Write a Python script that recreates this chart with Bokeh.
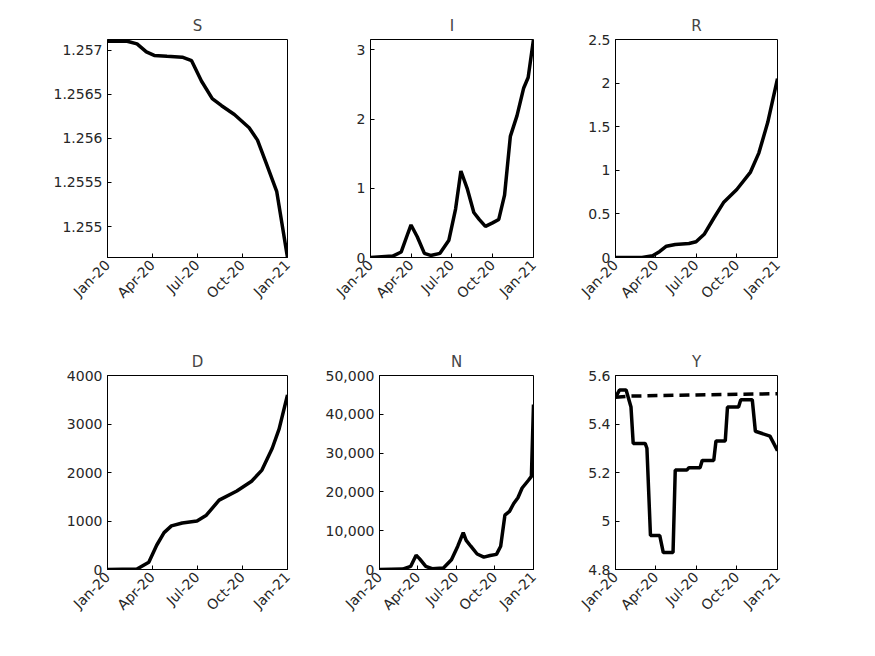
from datetime import datetime
from math import pi
from bokeh.plotting import figure
from bokeh.layouts import column, row
from bokeh.models import FixedTicker, Label, NumeralTickFormatter, Range1d
from bokeh.embed import file_html
from bokeh.resources import INLINE

def d(s):
    return datetime.strptime(s, "%Y-%m-%d").timestamp() * 1000

# ---- data ----
S_dates = ["2020-01-01", "2020-02-10", "2020-03-01", "2020-03-20", "2020-04-05", "2020-05-01", "2020-06-01",
           "2020-06-20", "2020-07-10", "2020-08-01", "2020-08-20", "2020-09-15", "2020-10-15", "2020-11-01",
           "2020-11-20", "2020-12-10", "2021-01-01"]
S_e8 = [1.25710, 1.25710, 1.25707, 1.25698, 1.25694, 1.25693, 1.25692, 1.25688, 1.25665, 1.25645, 1.25637,
        1.25627, 1.25612, 1.25598, 1.25570, 1.25540, 1.25465]

I_dates = ["2020-01-01", "2020-02-20", "2020-03-10", "2020-03-25", "2020-04-01", "2020-04-15", "2020-05-01",
           "2020-05-15", "2020-06-05", "2020-06-25", "2020-07-10", "2020-07-22", "2020-08-05", "2020-08-20",
           "2020-09-01", "2020-09-15", "2020-10-01", "2020-10-15", "2020-10-28", "2020-11-10", "2020-11-25",
           "2020-12-10", "2020-12-20", "2021-01-01"]
I_e4 = [0.0, 0.02, 0.08, 0.35, 0.47, 0.30, 0.06, 0.03, 0.06, 0.25, 0.70, 1.25, 1.00, 0.65, 0.55, 0.45, 0.50,
        0.55, 0.90, 1.75, 2.05, 2.45, 2.60, 3.15]

R_dates = ["2020-01-01", "2020-03-01", "2020-03-25", "2020-04-10", "2020-04-25", "2020-05-15", "2020-06-15",
           "2020-07-01", "2020-07-20", "2020-08-10", "2020-09-01", "2020-10-01", "2020-11-01", "2020-11-20",
           "2020-12-10", "2021-01-01"]
R_e5 = [0.0, 0.0, 0.02, 0.07, 0.13, 0.15, 0.16, 0.18, 0.27, 0.45, 0.63, 0.78, 0.98, 1.20, 1.55, 2.05]

D_dates = ["2020-01-01", "2020-03-01", "2020-03-25", "2020-04-10", "2020-04-25", "2020-05-10", "2020-06-01",
           "2020-07-01", "2020-07-20", "2020-08-15", "2020-09-20", "2020-10-20", "2020-11-10", "2020-12-01",
           "2020-12-15", "2021-01-01"]
D = [0, 10, 150, 500, 760, 900, 960, 1000, 1120, 1430, 1620, 1820, 2050, 2500, 2900, 3600]

N_dates = ["2020-01-01", "2020-02-25", "2020-03-15", "2020-03-28", "2020-04-05", "2020-04-20", "2020-05-05",
           "2020-06-01", "2020-06-20", "2020-07-05", "2020-07-18", "2020-07-25", "2020-08-05", "2020-08-20",
           "2020-09-05", "2020-09-20", "2020-10-05", "2020-10-15", "2020-10-25", "2020-11-05", "2020-11-15",
           "2020-11-25", "2020-12-05", "2020-12-20", "2020-12-27", "2021-01-01"]
N = [0, 100, 800, 3700, 2800, 800, 200, 400, 2500, 6000, 9500, 7500, 6000, 4000, 3200, 3600, 3900, 6000,
     14000, 15000, 17000, 18500, 21000, 23000, 24000, 42500]

Y_dates = ["2020-01-01", "2020-01-10", "2020-01-25", "2020-02-05", "2020-02-10", "2020-03-08", "2020-03-12",
           "2020-03-20", "2020-04-10", "2020-04-18", "2020-05-10", "2020-05-15", "2020-06-10", "2020-06-15",
           "2020-07-10", "2020-07-15", "2020-08-10", "2020-08-15", "2020-09-05", "2020-09-10", "2020-10-05",
           "2020-10-10", "2020-11-05", "2020-11-12", "2020-12-15", "2021-01-01"]
Y_e5 = [5.51, 5.54, 5.54, 5.47, 5.32, 5.32, 5.30, 4.94, 4.94, 4.87, 4.87, 5.21, 5.21, 5.22, 5.22, 5.25, 5.25,
        5.33, 5.33, 5.47, 5.47, 5.50, 5.50, 5.37, 5.35, 5.29]
Y0_dates = ["2020-01-01", "2020-02-01", "2020-07-01", "2021-01-01"]
Y0_e5 = [5.51, 5.515, 5.52, 5.525]

x_ticks = ["2020-01-01", "2020-04-01", "2020-07-01", "2020-10-01", "2021-01-01"]
x_labels = ["Jan-20", "Apr-20", "Jul-20", "Oct-20", "Jan-21"]

FONT = "DejaVu Sans"

def panel(title, width, height, left, right, top, bottom, yr, yticks, scale=None):
    p = figure(width=width, height=height, output_backend="svg", toolbar_location=None,
               min_border_left=left, min_border_right=right, min_border_top=top, min_border_bottom=bottom,
               x_range=Range1d(d("2020-01-01"), d("2021-01-01")), y_range=Range1d(*yr))
    p.title.text = title
    p.title.align = "center"
    p.title.text_font = FONT
    p.title.text_font_size = "15px"
    p.title.text_font_style = "normal"
    p.grid.visible = False
    p.outline_line_color = "black"
    p.outline_line_alpha = 1
    p.background_fill_color = "white"
    tx = [d(t) for t in x_ticks]
    p.xaxis.ticker = FixedTicker(ticks=tx)
    p.xaxis.major_label_overrides = {t: l for t, l in zip(tx, x_labels)}
    p.xaxis.major_label_orientation = pi / 4
    p.yaxis.ticker = FixedTicker(ticks=yticks)
    for ax in (p.xaxis, p.yaxis):
        ax.major_tick_in = 4
        ax.major_tick_out = 0
        ax.minor_tick_line_color = None
        ax.major_label_text_font = FONT
        ax.major_label_text_font_size = "14px"
        ax.major_label_text_color = "#262626"
        ax.axis_line_color = "black"
    if scale:
        p.add_layout(Label(x=d("2020-01-01"), y=yr[1], y_offset=1, text_baseline="bottom",
                           text="×10" + scale, text_font=FONT, text_font_size="14px",
                           text_color="#262626"))
    return p

H1, H2 = 327, 313
p1 = panel("S", 322, H1, 107, 35, 39, 70, (1.25465, 1.25712),
           [1.255, 1.2555, 1.256, 1.2565, 1.257], "⁸")
p1.yaxis.major_label_overrides = {1.255: "1.255", 1.2555: "1.2555", 1.256: "1.256", 1.2565: "1.2565", 1.257: "1.257"}
p1.line([d(t) for t in S_dates], S_e8, line_width=3.5, color="black")

p2 = panel("I", 245, H1, 48, 34, 39, 70, (0, 3.15), [0, 1, 2, 3], "⁴")
p2.line([d(t) for t in I_dates], I_e4, line_width=3.5, color="black")

p3 = panel("R", 284, H1, 48, 74, 39, 70, (0, 2.5), [0, 0.5, 1, 1.5, 2, 2.5], "⁵")
p3.line([d(t) for t in R_dates], R_e5, line_width=3.5, color="black")

p4 = panel("D", 322, H2, 107, 35, 48, 71, (0, 4000), [0, 1000, 2000, 3000, 4000])
p4.line([d(t) for t in D_dates], D, line_width=3.5, color="black")

p5 = panel("N", 245, H2, 48, 34, 48, 71, (0, 50000), [0, 10000, 20000, 30000, 40000, 50000])
p5.yaxis.formatter = NumeralTickFormatter(format="0,0")
p5.line([d(t) for t in N_dates], N, line_width=3.5, color="black")

p6 = panel("Y", 284, H2, 48, 74, 48, 71, (4.8, 5.6), [4.8, 5, 5.2, 5.4, 5.6], "⁵")
p6.line([d(t) for t in Y_dates], Y_e5, line_width=3.5, color="black")
p6.line([d(t) for t in Y0_dates], Y0_e5, line_width=3.5, color="black", line_dash="10 6")

layout = column(row(p1, p2, p3), row(p4, p5, p6))
open("out.html", "w").write(file_html(layout, INLINE))
